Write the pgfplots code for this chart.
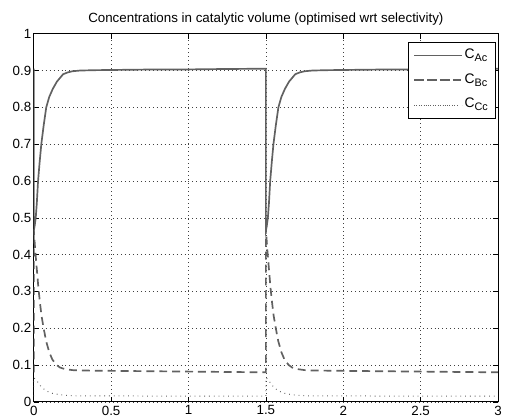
\documentclass[border=0pt]{standalone}
\usepackage{fontspec}
\setmainfont{Liberation Sans}
\usepackage{pgfplots}
\pgfplotsset{compat=1.18}
\definecolor{curve}{gray}{0.38}
\newcommand{\sub}[1]{\raisebox{-3bp}{\fontsize{11}{12}\selectfont #1}}

\begin{document}
\begin{tikzpicture}
\begin{axis}[
	scale only axis,
	width=468bp, height=371bp,
	xmin=0, xmax=3, ymin=0, ymax=1,
	xtick={0,0.5,1,1.5,2,2.5,3},
	ytick={0,0.1,0.2,0.3,0.4,0.5,0.6,0.7,0.8,0.9,1},
	tick pos=both,
	tick align=inside,
	major tick length=5bp,
	axis line style={line width=0.6bp},
	every tick/.style={black, line width=0.5bp},
	grid=major,
	major grid style={black!75, line width=0.5bp, dash pattern=on 0.6bp off 3.4bp},
	/pgf/number format/assume math mode=true,
	tick label style={font=\fontsize{13.5}{15}\selectfont},
	yticklabel style={xshift=1bp},
	xticklabel style={yshift=-0.5bp},
	title={Concentrations in catalytic volume (optimised wrt selectivity)},
	title style={font=\fontsize{13.5}{15}\selectfont, yshift=-1bp},
	legend style={
		at={(rel axis cs:0.9936,0.978)}, anchor=north east,
		draw=black, fill=white,
		font=\fontsize{14}{15}\selectfont,
		row sep=7bp, inner xsep=5bp, inner ysep=4.5bp,
		nodes={inner sep=2bp, text height=10bp, text depth=4bp},
	},
	legend cell align=left,
	legend image code/.code={
		\path (-2bp,0bp) -- (46bp,0bp);
		\draw[#1] (0bp,0bp) -- (41bp,0bp);
	},
]
% C_Ac
\addplot[curve, line width=1.7bp] coordinates {
	(0,0.905)(0,0.465)(0.005,0.475)(0.013,0.5)(0.02,0.54)(0.028,0.6)(0.038,0.65)
	(0.049,0.7)(0.064,0.75)(0.081,0.8)(0.1,0.828)(0.123,0.85)(0.15,0.87)(0.19,0.89)
	(0.22,0.895)(0.25,0.898)(0.3,0.9)(0.4,0.901)(0.6,0.902)(0.8,0.903)(1.0,0.903)
	(1.2,0.904)(1.5,0.905)
	(1.5,0.465)(1.505,0.475)(1.513,0.5)(1.52,0.54)(1.528,0.6)(1.538,0.65)
	(1.549,0.7)(1.564,0.75)(1.581,0.8)(1.6,0.828)(1.623,0.85)(1.65,0.87)(1.69,0.89)
	(1.72,0.895)(1.75,0.898)(1.8,0.9)(1.9,0.901)(2.1,0.902)(2.3,0.903)(2.5,0.903)
	(2.7,0.904)(3,0.905)
};
% C_Bc
\addplot[curve, line width=1.7bp, dash pattern=on 8bp off 5bp] coordinates {
	(0,0.08)(0,0.47)(0.005,0.44)(0.01,0.41)(0.02,0.36)(0.03,0.31)(0.04,0.27)
	(0.05,0.235)(0.064,0.2)(0.08,0.165)(0.1,0.135)(0.12,0.115)(0.147,0.1)(0.17,0.093)
	(0.2,0.089)(0.25,0.086)(0.3,0.085)(0.5,0.084)(1.0,0.082)(1.5,0.08)
	(1.5,0.47)(1.505,0.44)(1.51,0.41)(1.52,0.36)(1.53,0.31)(1.54,0.27)
	(1.55,0.235)(1.564,0.2)(1.58,0.165)(1.6,0.135)(1.62,0.115)(1.647,0.1)(1.67,0.093)
	(1.7,0.089)(1.75,0.086)(1.8,0.085)(2.0,0.084)(2.5,0.082)(3,0.08)
};
% C_Cc
\addplot[curve, line width=1bp, dash pattern=on 0.8bp off 4bp] coordinates {
	(0,0.015)(0,0.065)(0.01,0.062)(0.02,0.057)(0.035,0.048)(0.05,0.04)(0.07,0.033)
	(0.09,0.028)(0.12,0.023)(0.17,0.019)(0.22,0.017)(0.3,0.016)(1.5,0.015)
	(1.5,0.065)(1.51,0.062)(1.52,0.057)(1.535,0.048)(1.55,0.04)(1.57,0.033)
	(1.59,0.028)(1.62,0.023)(1.67,0.019)(1.72,0.017)(1.8,0.016)(3,0.015)
};
\legend{C\sub{Ac}, C\sub{Bc}, C\sub{Cc}}
\end{axis}
\path ([xshift=-34bp,yshift=-18bp]current axis.south west) rectangle ([xshift=3bp,yshift=34bp]current axis.north east);
\end{tikzpicture}
\end{document}
